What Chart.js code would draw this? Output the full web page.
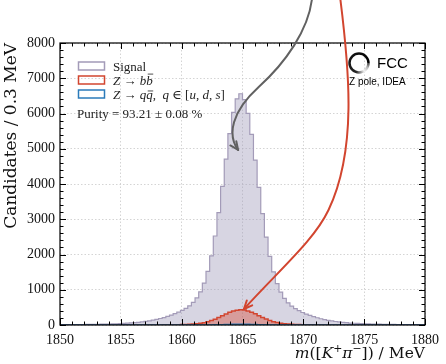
<!DOCTYPE html>
<html>
<head>
<meta charset="utf-8">
<script src="https://cdn.jsdelivr.net/npm/chart.js@4.4.1/dist/chart.umd.min.js"></script>
<style>
  html, body { margin: 0; padding: 0; background: #fff; }
  #wrap { width: 446px; height: 364px; }
</style>
</head>
<body>
<div id="wrap"><canvas id="massChart" width="446" height="364"></canvas></div>
<script>
// D0 -> K pi invariant mass, 100 bins of 0.3 MeV from 1850 to 1880
const binLow = 1850;
const binWidth = 0.3;
const binCount = 100;

const signalCounts = [
  8, 9, 11, 11, 12, 14, 14, 17, 17, 20,
  21, 24, 25, 29, 31, 36, 40, 46, 51, 58,
  67, 77, 90, 103, 119, 138, 160, 184, 212, 245,
  281, 320, 364, 415, 472, 545, 640, 768, 942, 1188,
  1520, 1962, 2525, 3190, 3935, 4705, 5430, 6030, 6415, 6560,
  6395, 6005, 5410, 4680, 3905, 3160, 2495, 1945, 1505, 1172,
  930, 755, 628, 536, 464, 405, 355, 311, 272, 238,
  206, 178, 155, 134, 115, 100, 87, 75, 65, 56,
  49, 44, 39, 34, 30, 27, 24, 22, 20, 18,
  17, 15, 14, 13, 12, 11, 10, 9, 8, 8
];

const bbCounts = [
  0, 0, 0, 0, 0, 0, 0, 0, 0, 0,
  0, 0, 0, 0, 0, 0, 0, 0, 0, 1,
  1, 1, 1, 1, 2, 2, 3, 3, 4, 5,
  6, 7, 9, 11, 14, 19, 25, 35, 48, 67,
  93, 126, 166, 212, 262, 313, 359, 397, 421, 430,
  424, 400, 362, 316, 265, 215, 168, 128, 95, 69,
  50, 36, 26, 19, 15, 11, 9, 7, 6, 5,
  4, 3, 3, 2, 2, 1, 1, 1, 1, 1,
  0, 0, 0, 0, 0, 0, 0, 0, 0, 0,
  0, 0, 0, 0, 0, 0, 0, 0, 0, 0
];

const qqCounts = [
  0, 0, 0, 0, 0, 0, 0, 0, 0, 0,
  0, 0, 0, 0, 0, 0, 0, 0, 0, 0,
  0, 0, 0, 0, 0, 0, 0, 0, 0, 0,
  0, 0, 0, 0, 0, 0, 0, 0, 0, 1,
  2, 3, 5, 7, 10, 13, 16, 19, 21, 22,
  21, 19, 16, 13, 10, 7, 5, 3, 2, 1,
  0, 0, 0, 0, 0, 0, 0, 0, 0, 0,
  0, 0, 0, 0, 0, 0, 0, 0, 0, 0,
  0, 0, 0, 0, 0, 0, 0, 0, 0, 0,
  0, 0, 0, 0, 0, 0, 0, 0, 0, 0
];

const xTicks = [1850, 1855, 1860, 1865, 1870, 1875, 1880];
const yTicks = [0, 1000, 2000, 3000, 4000, 5000, 6000, 7000, 8000];
const purityText = 'Purity = 93.21 \u00b1 0.08 %';

// annotation arrows (x in MeV, y in candidates), cubic bezier control points
const greyArrowPath = [[1870.70, 9220], [1870.38, 8369], [1868.60, 7461], [1866.33, 6752],
                       [1864.07, 6043], [1863.75, 5390], [1864.64, 4965]];
const redArrowPath = [[1873.05, 9220], [1873.77, 7234], [1874.42, 4965], [1872.07, 3262],
                      [1870.90, 2411], [1868.19, 1617], [1865.12, 454]];

// step histogram points: left edge of each bin, plus the closing edge
function toSteps(counts) {
  const pts = counts.map((c, i) => ({ x: binLow + i * binWidth, y: c }));
  pts.push({ x: binLow + binCount * binWidth, y: counts[counts.length - 1] });
  return pts;
}

const SERIF = '"Liberation Serif", "DejaVu Serif", serif';
const WIDE_SERIF = '"DejaVu Serif", serif';
const SANS = '"Liberation Sans", Arial, sans-serif';

// draws [text, style, barHeight] pieces on an alphabetic baseline
// style: 'n' upright, 'i' italic, 'sup' superscript; barHeight (in em) adds an overbar
function drawRuns(ctx, runs, x, y, size, family, measureOnly) {
  let cx = x;
  for (const [txt, st, bar] of runs) {
    let fs = size, dy = 0;
    if (st === 'sup') { fs = size * 0.7; dy = -size * 0.4; }
    ctx.font = (st === 'i' ? 'italic ' : '') + fs + 'px ' + family;
    const tw = ctx.measureText(txt).width;
    if (!measureOnly) {
      ctx.fillText(txt, cx, y + dy);
      if (bar) {
        ctx.save();
        ctx.strokeStyle = ctx.fillStyle;
        ctx.lineWidth = 0.8;
        ctx.beginPath();
        ctx.moveTo(cx + 1.5, y - bar * size);
        ctx.lineTo(cx + tw + 0.5, y - bar * size);
        ctx.stroke();
        ctx.restore();
      }
    }
    cx += tw;
  }
  return cx - x;
}

function arrowHead(ctx, tip, from, len, spread) {
  const ang = Math.atan2(tip.y - from.y, tip.x - from.x);
  ctx.beginPath();
  ctx.moveTo(tip.x - len * Math.cos(ang - spread), tip.y - len * Math.sin(ang - spread));
  ctx.lineTo(tip.x, tip.y);
  ctx.lineTo(tip.x - len * Math.cos(ang + spread), tip.y - len * Math.sin(ang + spread));
  ctx.stroke();
}

function drawArrow(ctx, xs, ys, path, color) {
  const p = path.map(([vx, vy]) => ({ x: xs.getPixelForValue(vx), y: ys.getPixelForValue(vy) }));
  ctx.save();
  ctx.strokeStyle = color;
  ctx.lineWidth = 2;
  ctx.lineCap = 'round';
  ctx.lineJoin = 'round';
  ctx.beginPath();
  ctx.moveTo(p[0].x, p[0].y);
  for (let i = 1; i + 2 < p.length; i += 3) {
    ctx.bezierCurveTo(p[i].x, p[i].y, p[i + 1].x, p[i + 1].y, p[i + 2].x, p[i + 2].y);
  }
  ctx.stroke();
  arrowHead(ctx, p[p.length - 1], p[p.length - 2], 9, 0.42);
  ctx.restore();
}

// frame, inward ticks, legend, logo, arrows and x title
const decorPlugin = {
  id: 'decor',
  afterDraw(chart) {
    const { ctx, chartArea: a, scales: { x, y } } = chart;
    ctx.save();

    // ticks pointing inwards on all four sides
    ctx.strokeStyle = '#000';
    ctx.lineWidth = 1;
    ctx.beginPath();
    for (let v = 1850; v <= 1880; v += 1) {
      const px = Math.round(x.getPixelForValue(v)) + 0.5;
      const len = v % 5 === 0 ? 6 : 3.5;
      ctx.moveTo(px, a.bottom); ctx.lineTo(px, a.bottom - len);
      ctx.moveTo(px, a.top); ctx.lineTo(px, a.top + len);
    }
    for (let v = 0; v <= 8000; v += 200) {
      const py = Math.round(y.getPixelForValue(v)) + 0.5;
      const len = v % 1000 === 0 ? 6 : 3.5;
      ctx.moveTo(a.left, py); ctx.lineTo(a.left + len, py);
      ctx.moveTo(a.right, py); ctx.lineTo(a.right - len, py);
    }
    ctx.stroke();

    ctx.lineWidth = 1.2;
    ctx.strokeRect(a.left, a.top, a.right - a.left, a.bottom - a.top);

    // legend
    const rows = [
      { color: '#a39bb8', runs: [['Signal', 'n']] },
      { color: '#d2452f', runs: [['Z', 'i'], [' \u2192 ', 'n'], ['b', 'i'], ['b', 'i', 0.8]] },
      { color: '#2b7bba', runs: [['Z', 'i'], [' \u2192 ', 'n'], ['q', 'i'], ['q', 'i', 0.58], [',  ', 'n'],
                                 ['q', 'i'], [' \u2208 ', 'n'], ['[', 'n'], ['u', 'i'], [', ', 'n'],
                                 ['d', 'i'], [', ', 'n'], ['s', 'i'], [']', 'n']] }
    ];
    ctx.textBaseline = 'alphabetic';
    ctx.textAlign = 'left';
    ctx.fillStyle = '#222';
    rows.forEach((r, i) => {
      const cy = a.top + 23 + i * 14;
      ctx.strokeStyle = r.color;
      ctx.lineWidth = 1.5;
      ctx.strokeRect(a.left + 18.5, cy - 4, 26, 8);
      drawRuns(ctx, r.runs, a.left + 53, cy + 4.5, 13, SERIF);
    });
    ctx.font = '13px ' + SERIF;
    ctx.fillText(purityText, a.left + 17, a.top + 74.5);

    // FCC logo
    ctx.textBaseline = 'middle';
    const rcx = a.right - 66, rcy = a.top + 20;
    const grad = ctx.createConicGradient(0, rcx, rcy);
    grad.addColorStop(0, '#444');
    grad.addColorStop(0.08, '#bbb');
    grad.addColorStop(0.16, '#f2f2f2');
    grad.addColorStop(0.3, '#222');
    grad.addColorStop(1, '#000');
    ctx.strokeStyle = grad;
    ctx.lineWidth = 2.5;
    ctx.beginPath();
    ctx.arc(rcx, rcy, 9.5, 0, Math.PI * 2);
    ctx.stroke();
    ctx.fillStyle = '#000';
    ctx.font = '15px ' + SANS;
    ctx.fillText('FCC', a.right - 48, rcy + 1);
    ctx.font = '10px ' + SANS;
    ctx.fillText('Z pole, IDEA', a.right - 76, a.top + 39);

    // annotation arrows
    drawArrow(ctx, x, y, greyArrowPath, '#616161');
    drawArrow(ctx, x, y, redArrowPath, '#d2452f');

    // x axis title, right aligned
    const titleRuns = [['m', 'i'], ['([', 'n'], ['K', 'i'], ['+', 'sup'], ['\u03c0', 'i'], ['\u2212', 'sup'],
                       ['])', 'n'], [' / MeV', 'n']];
    ctx.fillStyle = '#111';
    ctx.textBaseline = 'alphabetic';
    const w = drawRuns(ctx, titleRuns, 0, 0, 15.5, WIDE_SERIF, true);
    drawRuns(ctx, titleRuns, a.right - w, 358, 15.5, WIDE_SERIF);

    ctx.restore();
  }
};

function initMassChart() {
  const ctx = document.getElementById('massChart');
  if (!ctx) return;

  new Chart(ctx, {
    type: 'line',
    data: {
      datasets: [
        {
          label: 'Signal',
          data: toSteps(signalCounts),
          stepped: true,
          fill: 'origin',
          borderColor: '#a39bb8',
          backgroundColor: 'rgba(160, 155, 185, 0.42)',
          borderWidth: 1.2,
          pointRadius: 0,
          order: 3
        },
        {
          label: 'Z \u2192 bb\u0304',
          data: toSteps(bbCounts),
          stepped: true,
          fill: 'origin',
          borderColor: '#d2452f',
          backgroundColor: 'rgba(214, 70, 50, 0.4)',
          borderWidth: 1.5,
          pointRadius: 0,
          order: 2
        },
        {
          label: 'Z \u2192 qq\u0304',
          data: toSteps(qqCounts),
          stepped: true,
          fill: 'origin',
          borderColor: '#2b7bba',
          backgroundColor: 'rgba(43, 123, 186, 0.4)',
          borderWidth: 1.5,
          pointRadius: 0,
          order: 1
        }
      ]
    },
    options: {
      responsive: false,
      animation: false,
      events: [],
      layout: { padding: { left: 0, right: 15, top: 43, bottom: 0 } },
      plugins: {
        legend: { display: false },
        tooltip: { enabled: false }
      },
      scales: {
        x: {
          type: 'linear',
          min: xTicks[0],
          max: xTicks[xTicks.length - 1],
          afterBuildTicks: (s) => { s.ticks = xTicks.map(v => ({ value: v })); },
          afterFit: (s) => { s.height = 39; },
          ticks: {
            autoSkip: false,
            maxRotation: 0,
            padding: 7,
            color: '#111',
            callback: (v) => String(v),
            font: { family: SERIF, size: 14 }
          },
          grid: { color: '#c9c9c9', lineWidth: 0.8, drawTicks: false },
          border: { display: false, dash: [1.5, 2] }
        },
        y: {
          type: 'linear',
          min: yTicks[0],
          max: yTicks[yTicks.length - 1],
          afterBuildTicks: (s) => { s.ticks = yTicks.map(v => ({ value: v })); },
          afterFit: (s) => { s.width = 60; },
          ticks: {
            padding: 5,
            color: '#111',
            callback: (v) => String(v),
            font: { family: SERIF, size: 14 }
          },
          grid: { color: '#c9c9c9', lineWidth: 0.8, drawTicks: false },
          border: { display: false, dash: [1.5, 2] },
          title: {
            display: true,
            text: 'Candidates / 0.3 MeV',
            align: 'end',
            color: '#111',
            padding: { top: 1.5, bottom: 0 },
            font: { family: WIDE_SERIF, size: 17 }
          }
        }
      }
    },
    plugins: [decorPlugin]
  });
}

document.addEventListener('DOMContentLoaded', initMassChart);
</script>
</body>
</html>
